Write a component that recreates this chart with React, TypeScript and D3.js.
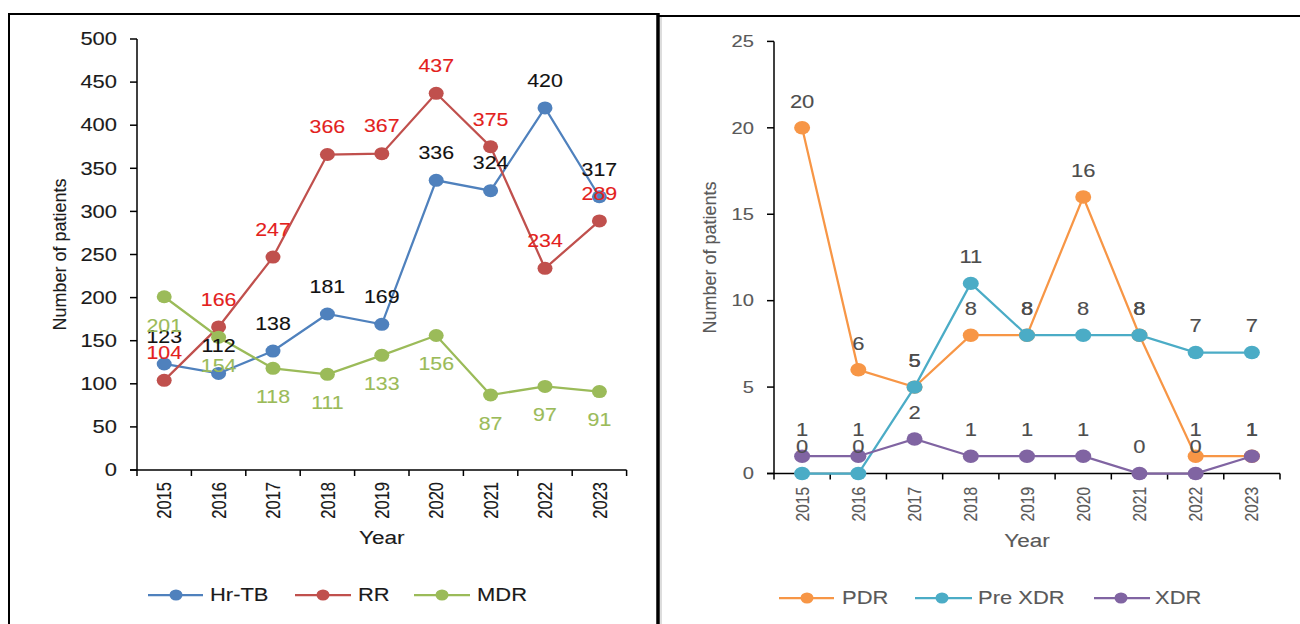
import React from "react";
import * as d3 from "d3";

// Years shared by both panels
const years = ["2015", "2016", "2017", "2018", "2019", "2020", "2021", "2022", "2023"];

// Left panel: resistance categories
const hrTB = [123, 112, 138, 181, 169, 336, 324, 420, 317];
const rr = [104, 166, 247, 366, 367, 437, 375, 234, 289];
const mdr = [201, 154, 118, 111, 133, 156, 87, 97, 91];
const leftTicks = [0, 50, 100, 150, 200, 250, 300, 350, 400, 450, 500];

// Right panel: extended resistance categories
const pdr = [20, 6, 5, 8, 8, 16, 8, 1, 1];
const preXdr = [0, 0, 5, 11, 8, 8, 8, 7, 7];
const xdr = [1, 1, 2, 1, 1, 1, 0, 0, 1];
const rightTicks = [0, 5, 10, 15, 20, 25];

const FONT = "'Liberation Sans', Arial, sans-serif";
const SX = 1.22;

type TxtProps = {
  x: number;
  y: number;
  size: number;
  fill: string;
  anchor?: "start" | "middle" | "end";
  rotate?: number;
  sx?: number;
  children: React.ReactNode;
};

// Text drawn slightly widened
function Txt({ x, y, size, fill, anchor = "middle", rotate = 0, sx = SX, children }: TxtProps) {
  const t = `translate(${x},${y}) scale(${sx},1)` + (rotate ? ` rotate(${rotate})` : "");
  return (
    <text
      transform={t}
      fontSize={size}
      fill={fill}
      stroke={fill}
      strokeWidth={0.12}
      textAnchor={anchor}
      dominantBaseline="central"
      fontFamily={FONT}
    >
      {children}
    </text>
  );
}

type Series = {
  name: string;
  values: number[];
  color: string;
  labelColor: string;
  labelOffset: number;
};

type PanelProps = {
  x0: number;
  x1: number;
  yTop: number;
  yBottom: number;
  max: number;
  ticks: number[];
  series: Series[];
  tickColor: string;
  tickSize: number;
  labelSize: number;
  yearSize: number;
  yearTop: number;
  titleX: number;
  yearTitleY: number;
  rx: number;
  ry: number;
  legend: { lineStart: number; lineEnd: number; marker: number; text: number }[];
  legendY: number;
};

function Panel(p: PanelProps) {
  const x = d3.scaleBand<string>().domain(years).range([p.x0, p.x1]).padding(0);
  const y = d3.scaleLinear().domain([0, p.max]).range([p.yBottom, p.yTop]);
  const cx = (yr: string) => (x(yr) as number) + x.bandwidth() / 2;
  const line = d3
    .line<number>()
    .x((_, i) => cx(years[i]))
    .y((v) => y(v));
  const boundaries = years.map((yr) => x(yr) as number).concat([p.x1]);

  return (
    <g>
      {/* axes */}
      <line x1={p.x0} x2={p.x0} y1={p.yTop} y2={p.yBottom} stroke="#000" strokeWidth={1.5} />
      <line x1={p.x0 - 7} x2={p.x1} y1={p.yBottom} y2={p.yBottom} stroke="#000" strokeWidth={1.5} />
      {p.ticks.map((t) => (
        <g key={"yt" + t}>
          <line x1={p.x0 - 7} x2={p.x0} y1={y(t)} y2={y(t)} stroke="#000" strokeWidth={1.5} />
          <Txt x={p.x0 - 20} y={y(t)} size={p.tickSize} fill={p.tickColor} anchor="end">
            {t}
          </Txt>
        </g>
      ))}
      {boundaries.map((b, i) => (
        <line key={"xt" + i} x1={b} x2={b} y1={p.yBottom} y2={p.yBottom + 6} stroke="#000" strokeWidth={1.5} />
      ))}
      {years.map((yr) => (
        <Txt key={"yl" + yr} x={cx(yr)} y={p.yearTop} size={p.yearSize} fill={p.tickColor} anchor="end" rotate={-90}>
          {yr}
        </Txt>
      ))}
      <Txt x={(p.x0 + p.x1) / 2} y={p.yearTitleY} size={18.5} fill={p.tickColor}>
        Year
      </Txt>
      <Txt x={p.titleX} y={(p.yTop + p.yBottom) / 2} size={18} fill={p.tickColor} rotate={-90} sx={1.05}>
        Number of patients
      </Txt>

      {/* series lines and markers */}
      {p.series.map((s) => (
        <g key={s.name}>
          <path d={line(s.values) as string} fill="none" stroke={s.color} strokeWidth={2.25} />
          {s.values.map((v, i) => (
            <ellipse key={i} cx={cx(years[i])} cy={y(v)} rx={p.rx} ry={p.ry} fill={s.color} />
          ))}
        </g>
      ))}

      {/* value labels */}
      {p.series.map((s) => (
        <g key={"lab" + s.name}>
          {s.values.map((v, i) => (
            <Txt key={i} x={cx(years[i])} y={y(v) + s.labelOffset} size={p.labelSize} fill={s.labelColor}>
              {v}
            </Txt>
          ))}
        </g>
      ))}

      {/* legend */}
      {p.series.map((s, i) => {
        const l = p.legend[i];
        return (
          <g key={"lg" + s.name}>
            <line x1={l.lineStart} x2={l.lineEnd} y1={p.legendY} y2={p.legendY} stroke={s.color} strokeWidth={2.25} />
            <ellipse cx={l.marker} cy={p.legendY} rx={6.5} ry={5.5} fill={s.color} />
            <Txt x={l.text} y={p.legendY} size={18} fill={p.tickColor} anchor="start">
              {s.name}
            </Txt>
          </g>
        );
      })}
    </g>
  );
}

export default function App() {
  const leftSeries: Series[] = [
    { name: "Hr-TB", values: hrTB, color: "#4F81BD", labelColor: "#111111", labelOffset: -27.5 },
    { name: "RR", values: rr, color: "#C0504D", labelColor: "#E3211C", labelOffset: -27.5 },
    { name: "MDR", values: mdr, color: "#9BBB59", labelColor: "#9BBB59", labelOffset: 28.5 },
  ];
  const rightSeries: Series[] = [
    { name: "PDR", values: pdr, color: "#F79646", labelColor: "#4d4d4d", labelOffset: -26.5 },
    { name: "Pre XDR", values: preXdr, color: "#4BACC6", labelColor: "#4d4d4d", labelOffset: -26.5 },
    { name: "XDR", values: xdr, color: "#8064A2", labelColor: "#4d4d4d", labelOffset: -26.5 },
  ];

  return (
    <svg
      width={1300}
      height={624}
      style={{ position: "absolute", left: 0, top: 0, background: "#fff" }}
      fontFamily={FONT}
    >
      <rect x={0} y={0} width={1300} height={624} fill="#fff" />
      {/* panel frames */}
      <line x1={8} x2={659} y1={14} y2={14} stroke="#000" strokeWidth={2} />
      <line x1={9} x2={9} y1={13} y2={624} stroke="#000" strokeWidth={2} />
      <line x1={658} x2={658} y1={13} y2={624} stroke="#000" strokeWidth={3.5} />
      <line x1={658} x2={1300} y1={16} y2={16} stroke="#000" strokeWidth={2} />
      <line x1={661} x2={661} y1={17} y2={624} stroke="#aaa" strokeWidth={0.8} />

      <Panel
        x0={137}
        x1={626.6}
        yTop={39}
        yBottom={470}
        max={500}
        ticks={leftTicks}
        series={leftSeries}
        tickColor="#1a1a1a"
        tickSize={18}
        labelSize={17.5}
        yearSize={16.5}
        yearTop={482}
        titleX={59}
        yearTitleY={537}
        rx={7.5}
        ry={6.5}
        legend={[
          { lineStart: 148, lineEnd: 203, marker: 176, text: 210 },
          { lineStart: 295, lineEnd: 351, marker: 323, text: 358 },
          { lineStart: 414, lineEnd: 470, marker: 442, text: 477 },
        ]}
        legendY={595}
      />
      <Panel
        x0={774}
        x1={1280}
        yTop={41.4}
        yBottom={473.5}
        max={25}
        ticks={rightTicks}
        series={rightSeries}
        tickColor="#595959"
        tickSize={16.5}
        labelSize={18}
        yearSize={15.5}
        yearTop={487}
        titleX={709}
        yearTitleY={540}
        rx={8}
        ry={6.7}
        legend={[
          { lineStart: 779, lineEnd: 834, marker: 807, text: 842 },
          { lineStart: 915, lineEnd: 972, marker: 942, text: 978 },
          { lineStart: 1094, lineEnd: 1150, marker: 1121, text: 1155 },
        ]}
        legendY={598}
      />
    </svg>
  );
}
